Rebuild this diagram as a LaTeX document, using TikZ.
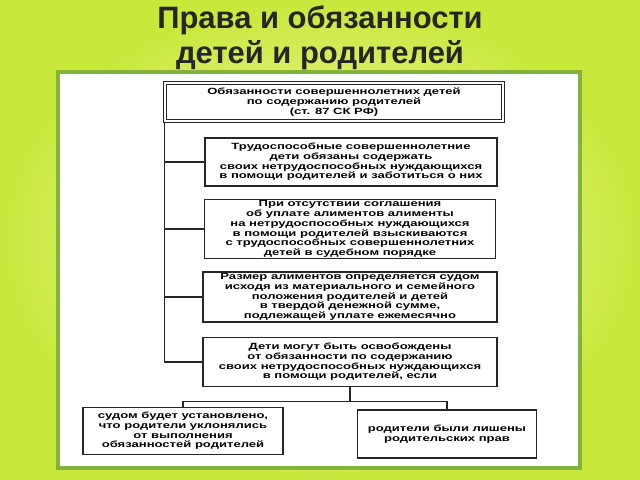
\documentclass[tikz,border=0pt]{standalone}
\usepackage{fontspec}
\setmainfont{Liberation Sans}
\newfontfamily\widefont[FakeStretch=1.45]{Liberation Sans}
\usetikzlibrary{positioning}
\definecolor{bgin}{RGB}{250,252,190}
\definecolor{bgout}{RGB}{200,232,60}
\definecolor{frame}{RGB}{130,180,60}
\begin{document}
\begin{tikzpicture}[x=0.025cm, y=-0.025cm,
    % Styles
    duty/.style={draw=black!85, line width=1pt, fill=white, font=\widefont\fontsize{6.4}{6.9}\selectfont\bfseries, align=center, inner sep=1pt},
    mainduty/.style={duty, double, double distance=1pt},
    link/.style={draw=black!85, line width=0.9pt},
    title/.style={font=\fontsize{22}{25}\selectfont\bfseries, text=black!85},
]

% Background
\shade[inner color=bgin, outer color=bgout] (0,0) rectangle (640,480);
\useasboundingbox (0,0) rectangle (640,480);

% Title
\node[title] (title1) at (320,20) {Права и обязанности};
\node[title] (title2) at (320,55) {детей и родителей};

% Panel
\draw[line width=3.5pt, draw=frame, fill=white] (58,72) rectangle (580,468);

% Boxes
\node[mainduty, minimum width=8.45cm, minimum height=0.95cm] (top) at (334,102)
    {Обязанности совершеннолетних детей\\по содержанию родителей\\(ст. 87 СК РФ)};
\node[duty, minimum width=7.3cm, minimum height=1.2cm] (able) at (351,162)
    {Трудоспособные совершеннолетние\\дети обязаны содержать\\своих нетрудоспособных нуждающихся\\в помощи родителей и заботиться о них};
\node[duty, minimum width=7.28cm, minimum height=1.35cm] (court) at (350,229)
    {При отсутствии соглашения\\об уплате алиментов алименты\\на нетрудоспособных нуждающихся\\в помощи родителей взыскиваются\\с трудоспособных совершеннолетних\\детей в судебном порядке};
\node[duty, minimum width=7.35cm, minimum height=1.25cm] (amount) at (350,297)
    {Размер алиментов определяется судом\\исходя из материального и семейного\\положения родителей и детей\\в твердой денежной сумме,\\подлежащей уплате ежемесячно};
\node[duty, minimum width=7.35cm, minimum height=1.22cm] (free) at (350,362)
    {Дети могут быть освобождены\\от обязанности по содержанию\\своих нетрудоспособных нуждающихся\\в помощи родителей, если};
\node[duty, minimum width=5cm, minimum height=1.17cm] (evade) at (183,431)
    {судом будет установлено,\\что родители уклонялись\\от выполнения\\обязанностей родителей};
\node[duty, minimum width=4.47cm, minimum height=1.2cm] (deprived) at (447,434)
    {родители были лишены\\родительских прав};

% Connectors
\coordinate (spine) at (top.south west);
\draw[link] (spine) |- (able.west);
\draw[link] (spine) |- (court.west);
\draw[link] (spine) |- (amount.west);
\draw[link] (spine) |- (free.west);
\coordinate (fork) at ([yshift=-10]free.south);
\draw[link] (free.south) -- (fork);
\draw[link] (fork) -| (evade.north);
\draw[link] (fork) -| (deprived.north);

\end{tikzpicture}
\end{document}
